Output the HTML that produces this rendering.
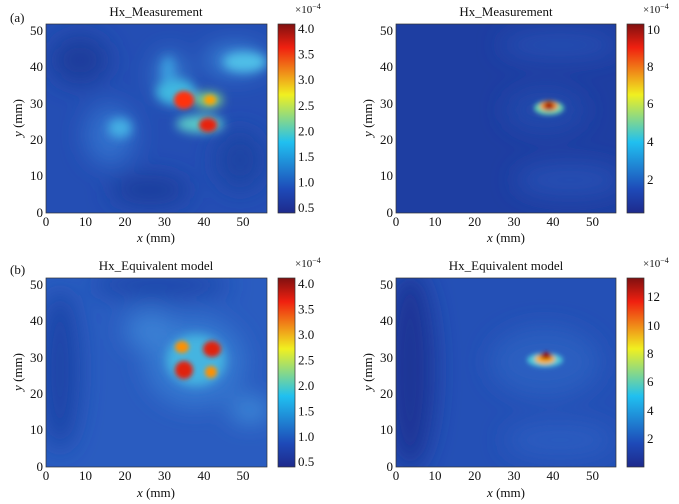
<!DOCTYPE html>
<html><head><meta charset="utf-8"><style>
body{margin:0;background:#fff;}
svg{display:block;font-family:"Liberation Serif",serif;}
</style></head><body>
<svg width="679" height="504" viewBox="0 0 679 504" xmlns="http://www.w3.org/2000/svg">
<defs>
<linearGradient id="jet" x1="0" y1="1" x2="0" y2="0">
<stop offset="0" stop-color="#1e2a8c"/><stop offset="0.125" stop-color="#1e4ab8"/>
<stop offset="0.375" stop-color="#20c0f0"/><stop offset="0.625" stop-color="#f0f020"/>
<stop offset="0.875" stop-color="#f02010"/><stop offset="1" stop-color="#801010"/>
</linearGradient>
<filter id="b3" x="-50%" y="-50%" width="200%" height="200%"><feGaussianBlur stdDeviation="2.5"/></filter>
<filter id="b6" x="-50%" y="-50%" width="200%" height="200%"><feGaussianBlur stdDeviation="5"/></filter>
<filter id="b12" x="-50%" y="-50%" width="200%" height="200%"><feGaussianBlur stdDeviation="12"/></filter>
<clipPath id="c1"><rect x="46" y="24" width="221" height="189"/></clipPath>
<clipPath id="c2"><rect x="396" y="24" width="220" height="189"/></clipPath>
<clipPath id="c3"><rect x="46" y="278" width="221" height="189"/></clipPath>
<clipPath id="c4"><rect x="396" y="278" width="220" height="189"/></clipPath>
</defs>

<!-- Panel 1 -->
<g clip-path="url(#c1)">
<rect x="46" y="24" width="221" height="189" fill="#244eb4"/>
<g filter="url(#b12)">
<ellipse cx="80" cy="60" rx="30" ry="25" fill="#1c3c9c"/>
<ellipse cx="150" cy="190" rx="40" ry="15" fill="#1c3c9c"/>
<ellipse cx="240" cy="160" rx="25" ry="30" fill="#1e44a4"/>
<ellipse cx="110" cy="135" rx="25" ry="30" fill="#3270cc"/>
<ellipse cx="235" cy="60" rx="30" ry="14" fill="#3a88d8"/>
<ellipse cx="170" cy="75" rx="14" ry="22" fill="#3a85d4"/>
</g>
<g filter="url(#b6)">
<ellipse cx="176" cy="92" rx="20" ry="13" fill="#40b8e0"/>
<ellipse cx="200" cy="124" rx="24" ry="9" fill="#58c8c8"/>
<ellipse cx="208" cy="100" rx="15" ry="8" fill="#80d080"/>
<ellipse cx="245" cy="62" rx="22" ry="10" fill="#4fc0e8"/>
<ellipse cx="120" cy="128" rx="12" ry="10" fill="#45b0e4"/>
<ellipse cx="168" cy="70" rx="6" ry="14" fill="#3aa0e0"/>
</g>
<g filter="url(#b3)">
<ellipse cx="184" cy="100" rx="10" ry="9" fill="#ff3010"/>
<ellipse cx="208" cy="125" rx="9" ry="7" fill="#e82010"/>
<ellipse cx="210" cy="100" rx="6" ry="5" fill="#ffa000"/>
</g>
</g>
<rect x="46" y="24" width="221" height="189" fill="none" stroke="#333" stroke-width="0.7"/>
<rect x="278" y="24" width="17" height="189" fill="url(#jet)" stroke="#333" stroke-width="0.7"/>

<!-- Panel 2 -->
<g clip-path="url(#c2)">
<rect x="396" y="24" width="220" height="189" fill="#1e3ea2"/>
<g filter="url(#b12)">
<ellipse cx="560" cy="45" rx="60" ry="12" fill="#2650b4"/>
<ellipse cx="570" cy="180" rx="55" ry="16" fill="#2650b4"/>
<ellipse cx="545" cy="110" rx="40" ry="22" fill="#2448ac"/>
</g>
<g filter="url(#b3)">
<ellipse cx="549" cy="108" rx="15" ry="7" fill="#60d0b0"/>
<ellipse cx="549" cy="106" rx="9" ry="5" fill="#ff9000"/>
<ellipse cx="549" cy="106" rx="5" ry="4" fill="#a00000"/>
</g>
</g>
<rect x="396" y="24" width="220" height="189" fill="none" stroke="#333" stroke-width="0.7"/>
<rect x="627" y="24" width="17" height="189" fill="url(#jet)" stroke="#333" stroke-width="0.7"/>

<!-- Panel 3 -->
<g clip-path="url(#c3)">
<rect x="46" y="278" width="221" height="189" fill="#2a5cc0"/>
<g filter="url(#b12)">
<ellipse cx="60" cy="370" rx="20" ry="80" fill="#1e44a8"/>
<ellipse cx="160" cy="285" rx="70" ry="12" fill="#1e44a8"/>
<ellipse cx="195" cy="362" rx="50" ry="45" fill="#3478d0"/>
<ellipse cx="250" cy="410" rx="20" ry="12" fill="#3f90dc"/>
<ellipse cx="150" cy="330" rx="25" ry="20" fill="#3a80d4"/>
</g>
<g filter="url(#b6)">
<ellipse cx="196" cy="360" rx="30" ry="26" fill="#45b4e0"/>
</g>
<g filter="url(#b3)">
<ellipse cx="184" cy="370" rx="9" ry="9" fill="#e02010"/>
<ellipse cx="212" cy="349" rx="9" ry="8" fill="#e02010"/>
<ellipse cx="182" cy="347" rx="7" ry="6" fill="#ff9000"/>
<ellipse cx="211" cy="372" rx="6" ry="6" fill="#ff9000"/>
</g>
</g>
<rect x="46" y="278" width="221" height="189" fill="none" stroke="#333" stroke-width="0.7"/>
<rect x="278" y="278" width="17" height="189" fill="url(#jet)" stroke="#333" stroke-width="0.7"/>

<!-- Panel 4 -->
<g clip-path="url(#c4)">
<rect x="396" y="278" width="220" height="189" fill="#2450b6"/>
<g filter="url(#b12)">
<ellipse cx="410" cy="370" rx="25" ry="100" fill="#1a3496"/>
<ellipse cx="545" cy="362" rx="55" ry="35" fill="#2c5ec0"/>
<ellipse cx="560" cy="440" rx="55" ry="18" fill="#2a5cc0"/>
</g>
<g filter="url(#b3)">
<ellipse cx="545" cy="360" rx="18" ry="7" fill="#50c8d8"/>
<ellipse cx="545" cy="359" rx="10" ry="5" fill="#ffb000"/>
<ellipse cx="546" cy="356" rx="6" ry="3.5" fill="#a00000"/>
</g>
</g>
<rect x="396" y="278" width="220" height="189" fill="none" stroke="#333" stroke-width="0.7"/>
<rect x="627" y="278" width="17" height="189" fill="url(#jet)" stroke="#333" stroke-width="0.7"/>

<g font-size="13" fill="#111">
<text x="156" y="16" text-anchor="middle" font-size="13">Hx_Measurement</text>
<text x="506" y="16" text-anchor="middle" font-size="13">Hx_Measurement</text>
<text x="156" y="270" text-anchor="middle" font-size="13">Hx_Equivalent model</text>
<text x="506" y="270" text-anchor="middle" font-size="13">Hx_Equivalent model</text>
<text x="10" y="22">(a)</text>
<text x="10" y="274">(b)</text>
<g text-anchor="middle">
<text x="46" y="226">0</text><text x="85.5" y="226">10</text><text x="125" y="226">20</text><text x="164.5" y="226">30</text><text x="204" y="226">40</text><text x="243" y="226">50</text>
<text x="396" y="226">0</text><text x="435" y="226">10</text><text x="474.6" y="226">20</text><text x="514" y="226">30</text><text x="553" y="226">40</text><text x="592.5" y="226">50</text>
<text x="46" y="480">0</text><text x="85.5" y="480">10</text><text x="125" y="480">20</text><text x="164.5" y="480">30</text><text x="204" y="480">40</text><text x="243" y="480">50</text>
<text x="396" y="480">0</text><text x="435" y="480">10</text><text x="474.6" y="480">20</text><text x="514" y="480">30</text><text x="553" y="480">40</text><text x="592.5" y="480">50</text>
<text x="156" y="242"><tspan font-style="italic">x</tspan> (mm)</text>
<text x="506" y="242"><tspan font-style="italic">x</tspan> (mm)</text>
<text x="156" y="497"><tspan font-style="italic">x</tspan> (mm)</text>
<text x="506" y="497"><tspan font-style="italic">x</tspan> (mm)</text>
</g>
<g text-anchor="end">
<text x="43" y="217">0</text><text x="43" y="180">10</text><text x="43" y="144">20</text><text x="43" y="108">30</text><text x="43" y="71">40</text><text x="43" y="35">50</text>
<text x="393" y="217">0</text><text x="393" y="180">10</text><text x="393" y="144">20</text><text x="393" y="108">30</text><text x="393" y="71">40</text><text x="393" y="35">50</text>
<text x="43" y="471">0</text><text x="43" y="434">10</text><text x="43" y="398">20</text><text x="43" y="362">30</text><text x="43" y="325">40</text><text x="43" y="289">50</text>
<text x="393" y="471">0</text><text x="393" y="434">10</text><text x="393" y="398">20</text><text x="393" y="362">30</text><text x="393" y="325">40</text><text x="393" y="289">50</text>
</g>
<text transform="translate(22,118) rotate(-90)" text-anchor="middle"><tspan font-style="italic">y</tspan> (mm)</text>
<text transform="translate(372,118) rotate(-90)" text-anchor="middle"><tspan font-style="italic">y</tspan> (mm)</text>
<text transform="translate(22,372) rotate(-90)" text-anchor="middle"><tspan font-style="italic">y</tspan> (mm)</text>
<text transform="translate(372,372) rotate(-90)" text-anchor="middle"><tspan font-style="italic">y</tspan> (mm)</text>
<g font-size="11">
<text x="295" y="13">×10<tspan dy="-4" font-size="8">−4</tspan></text>
<text x="643" y="13">×10<tspan dy="-4" font-size="8">−4</tspan></text>
<text x="295" y="267">×10<tspan dy="-4" font-size="8">−4</tspan></text>
<text x="643" y="267">×10<tspan dy="-4" font-size="8">−4</tspan></text>
</g>
<g>
<text x="298" y="33">4.0</text><text x="298" y="58.6">3.5</text><text x="298" y="84.2">3.0</text><text x="298" y="109.8">2.5</text><text x="298" y="135.4">2.0</text><text x="298" y="161">1.5</text><text x="298" y="186.6">1.0</text><text x="298" y="212">0.5</text>
<text x="298" y="288">4.0</text><text x="298" y="313.5">3.5</text><text x="298" y="339">3.0</text><text x="298" y="364.5">2.5</text><text x="298" y="390">2.0</text><text x="298" y="415.5">1.5</text><text x="298" y="441">1.0</text><text x="298" y="466">0.5</text>
<text x="647" y="34">10</text><text x="647" y="71">8</text><text x="647" y="108">6</text><text x="647" y="146">4</text><text x="647" y="184">2</text>
<text x="647" y="301">12</text><text x="647" y="330">10</text><text x="647" y="358">8</text><text x="647" y="386">6</text><text x="647" y="415">4</text><text x="647" y="443">2</text>
</g>
</g>
</svg>
</body></html>
